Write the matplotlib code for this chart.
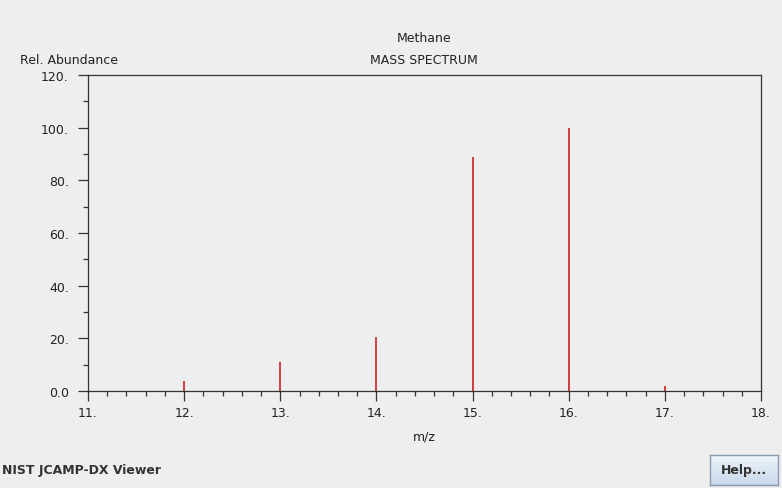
import numpy as np
import matplotlib.pyplot as plt
from matplotlib.ticker import MultipleLocator, FuncFormatter

# data
mz = [12, 13, 14, 15, 16, 17]
abundance = [3.9, 10.9, 20.6, 88.9, 100.0, 2.0]

x_ticks = [11, 12, 13, 14, 15, 16, 17, 18]
y_ticks = [0, 20, 40, 60, 80, 100, 120]

BG = '#eeeeee'
TXT = '#222222'
plt.rcParams['font.family'] = ['DejaVu Sans']

fig = plt.figure(figsize=(7.82, 4.89), dpi=100, facecolor=BG)
ax = fig.add_axes([88 / 782, 1 - 392 / 489, (761 - 88) / 782, (392 - 76) / 489])
ax.set_facecolor(BG)

ax.vlines(mz, 0, abundance, color='#cc1f1f', linewidth=1.2)

ax.set_xlim(11, 18)
ax.set_ylim(0, 120)
ax.set_xticks(x_ticks)
ax.set_yticks(y_ticks)
ax.xaxis.set_minor_locator(MultipleLocator(0.2))
ax.yaxis.set_minor_locator(MultipleLocator(10))
fmt = FuncFormatter(lambda v, p: '0.0' if v == 0 else '%d.' % v)
ax.xaxis.set_major_formatter(fmt)
ax.yaxis.set_major_formatter(fmt)

for s in ax.spines.values():
    s.set_color('#333333')
    s.set_linewidth(0.9)
ax.tick_params(which='major', length=7.3, width=0.9, color='#333333',
               labelsize=9, labelcolor=TXT)
ax.tick_params(axis='x', which='major', pad=3.5)
ax.tick_params(axis='y', which='major', pad=6.5)
ax.tick_params(which='minor', length=3.6, width=0.9, color='#333333')

# titles and labels
fig.text(424 / 782, 1 - 38 / 489, 'Methane', ha='center', va='center', fontsize=9, color=TXT)
fig.text(424 / 782, 1 - 61 / 489, 'MASS SPECTRUM', ha='center', va='center', fontsize=9, color=TXT)
fig.text(20 / 782, 1 - 61 / 489, 'Rel. Abundance', ha='left', va='center', fontsize=9, color=TXT)
fig.text(424 / 782, 1 - 437 / 489, 'm/z', ha='center', va='center', fontsize=9, color=TXT)
fig.text(2 / 782, 1 - 471 / 489, 'NIST JCAMP-DX Viewer', ha='left', va='center', fontsize=9,
         fontweight='bold', color='#333333')

# Help button with a soft vertical gradient
bax = fig.add_axes([710 / 782, 1 - 486 / 489, 68 / 782, 30 / 489])
grad = np.linspace(0, 1, 50).reshape(-1, 1)
bax.imshow(grad, aspect='auto', cmap=plt.matplotlib.colors.LinearSegmentedColormap.from_list(
    'btn', ['#eef4fb', '#c9d9eb']), extent=(0, 1, 0, 1), origin='upper')
bax.set_xticks([])
bax.set_yticks([])
for s in bax.spines.values():
    s.set_color('#8a9ab0')
    s.set_linewidth(1)
bax.text(0.5, 0.5, 'Help...', ha='center', va='center', fontsize=9,
         fontweight='bold', color='#333333', transform=bax.transAxes)

fig.savefig('out.png', dpi=100, facecolor=BG)
